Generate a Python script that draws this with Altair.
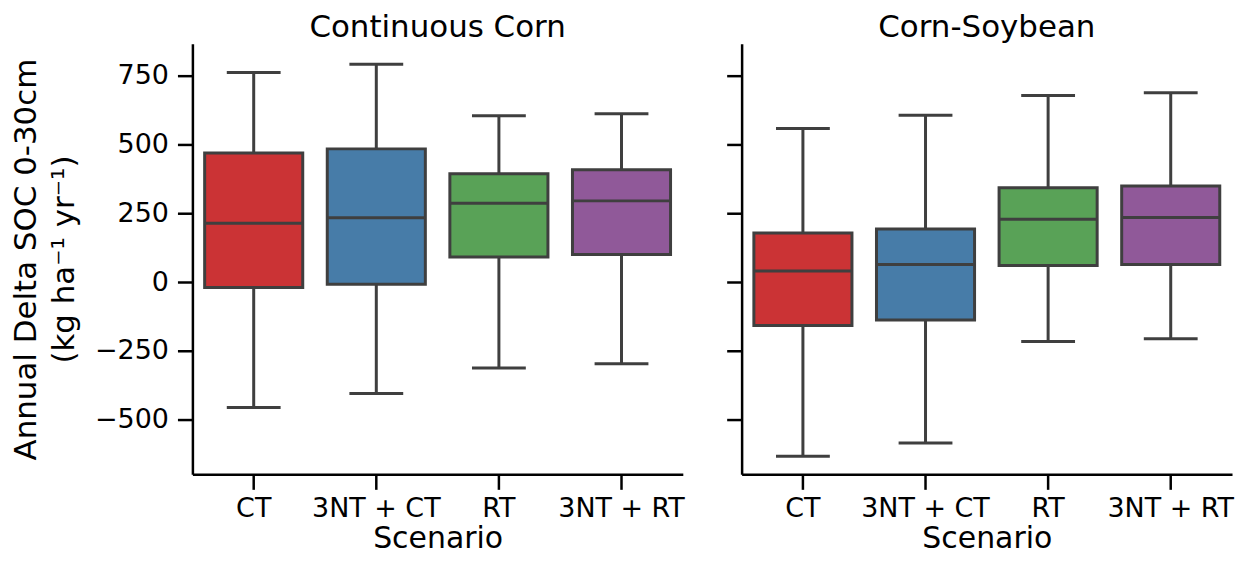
import altair as alt
import pandas as pd

scenarios = ["CT", "3NT + CT", "RT", "3NT + RT"]
colors = ["#cb3335", "#477ca8", "#59a257", "#905999"]
systems = ["Continuous Corn", "Corn-Soybean"]

cc_low = [-456, -405, -312, -297]
cc_q1 = [-20, -8, 91, 100]
cc_med = [214, 234, 286, 295]
cc_q3 = [469, 484, 394, 408]
cc_high = [762, 792, 604, 612]

cs_low = [-633, -585, -216, -206]
cs_q1 = [-158, -138, 60, 64]
cs_med = [40, 64, 228, 235]
cs_q3 = [178, 193, 343, 349]
cs_high = [558, 606, 678, 688]

y_ticks = [-500, -250, 0, 250, 500, 750]
y_domain = [-699, 866]

FONT = "DejaVu Sans"
EDGE = "#3f3f3f"
LW = 3


def make_df(system, low, q1, med, q3, high):
    return pd.DataFrame({
        "System": system, "Scenario": scenarios,
        "low": low, "q1": q1, "med": med, "q3": q3, "high": high,
    })


df_cc = make_df(systems[0], cc_low, cc_q1, cc_med, cc_q3, cc_high)
df_cs = make_df(systems[1], cs_low, cs_q1, cs_med, cs_q3, cs_high)


def panel(df, title, first):
    xenc = alt.X(
        "Scenario:N", sort=scenarios,
        scale=alt.Scale(domain=scenarios, paddingInner=0.2, paddingOuter=0.1),
        axis=alt.Axis(title="Scenario", labelAngle=0, tickSize=15, tickWidth=2.5,
                      domainWidth=2.5, tickColor="black", domainColor="black",
                      labelFontSize=27, titleFontSize=30, labelFont=FONT, titleFont=FONT,
                      titleFontWeight="normal", labelPadding=6, titlePadding=2,
                      labelColor="black", titleColor="black"),
    )
    if first:
        yaxis = alt.Axis(values=y_ticks, title=["Annual Delta SOC 0-30cm", "(kg ha⁻¹ yr⁻¹)"],
                         tickSize=15, tickWidth=2.5, domainWidth=2.5, tickColor="black",
                         domainColor="black", labelFontSize=27, titleFontSize=31,
                         labelFont=FONT, titleFont=FONT, titleFontWeight="normal",
                         labelPadding=9, titlePadding=14, titleLineHeight=38,
                         grid=False, labelColor="black", titleColor="black")
    else:
        yaxis = alt.Axis(values=y_ticks, title=None, labels=False,
                         tickSize=15, tickWidth=2.5, domainWidth=2.5, tickColor="black",
                         domainColor="black", grid=False)
    yscale = alt.Scale(domain=y_domain, nice=False, zero=False)

    def yenc(field):
        return alt.Y(f"{field}:Q", scale=yscale, axis=yaxis)

    base = alt.Chart(df).encode(x=xenc)
    whisk = base.mark_rule(color=EDGE, strokeWidth=LW).encode(y=yenc("low"), y2="high:Q")
    box = base.mark_bar(stroke=EDGE, strokeWidth=LW).encode(
        y=yenc("q1"), y2="q3:Q",
        color=alt.Color("Scenario:N", scale=alt.Scale(domain=scenarios, range=colors), legend=None),
    )
    med = base.mark_tick(color=EDGE, thickness=LW, size=98, opacity=1).encode(y=yenc("med"))
    cap_lo = base.mark_tick(color=EDGE, thickness=LW, size=54, opacity=1).encode(y=yenc("low"))
    cap_hi = base.mark_tick(color=EDGE, thickness=LW, size=54, opacity=1).encode(y=yenc("high"))
    return alt.layer(whisk, box, med, cap_lo, cap_hi).properties(
        width=492, height=432,
        title=alt.TitleParams(title, fontSize=31, font=FONT, fontWeight="normal",
                              anchor="middle", frame="group", offset=0, color="black"),
    )


chart = alt.hconcat(
    panel(df_cc, systems[0], True),
    panel(df_cs, systems[1], False),
    spacing=40,
).properties(
    padding={"left": 2, "top": 3, "right": 5, "bottom": 0}
).configure(
    font=FONT, view=alt.ViewConfig(strokeWidth=0, stroke="transparent")
)

chart.save("out.html", embed_options={"renderer": "svg", "actions": False})
